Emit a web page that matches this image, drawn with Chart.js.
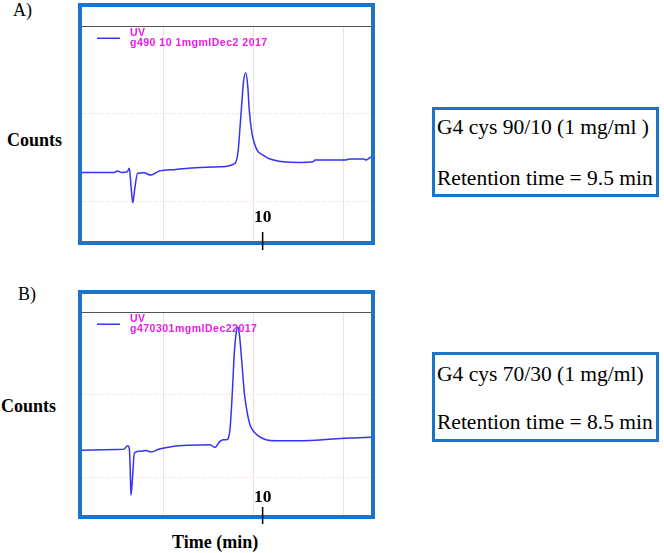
<!DOCTYPE html>
<html>
<head>
<meta charset="utf-8">
<script src="https://cdn.jsdelivr.net/npm/chart.js@4/dist/chart.umd.min.js"></script>
<style>
    body { margin: 0; background: #fff; width: 664px; height: 553px; position: relative; overflow: hidden; font-family: "Liberation Serif", "Times New Roman", serif; }
    .lbl { position: absolute; white-space: nowrap; color: #000; font-size: 18px; line-height: 20px; }
    .bold { font-weight: bold; }
    .box { position: absolute; box-sizing: border-box; border: 3px solid #1b74c9; width: 227px; height: 90px; }
    .info { position: absolute; white-space: nowrap; font-size: 21.5px; line-height: 24px; color: #000; }
    canvas { position: absolute; }
</style>
</head>
<body>
<div class="lbl" style="left:13px; top:0px;">A)</div>
<div class="lbl" style="left:18px; top:284px;">B)</div>
<div class="lbl bold" style="left:7px; top:130px;">Counts</div>
<div class="lbl bold" style="left:1px; top:396px;">Counts</div>
<div class="lbl bold" style="left:172px; top:532px;">Time (min)</div>

<div class="box" style="left:432px; top:107px;"></div>
<div class="info" style="left:437px; top:115px;">G4 cys 90/10 (1 mg/ml )</div>
<div class="info" style="left:437px; top:166px;">Retention time = 9.5 min</div>

<div class="box" style="left:432px; top:352px;"></div>
<div class="info" style="left:437px; top:362px;">G4 cys 70/30 (1 mg/ml)</div>
<div class="info" style="left:437px; top:410px;">Retention time = 8.5 min</div>

<canvas id="chartA" width="312" height="262" style="left:70px; top:0px;"></canvas>
<canvas id="chartB" width="312" height="262" style="left:70px; top:285px;"></canvas>

<script>
// --- DATA ---
const sampleNames = ['g490 10 1mgmlDec2 2017', 'g470301mgmlDec22017'];
const gridTimes = [4.5, 9.5, 14.5];
const gridCounts = [1, 2, 3];
const tickTimes = [10];

// A) G4 cys 90/10
const timesA = [0, 1.77, 1.98, 2.16, 2.49, 2.62, 2.71, 2.81, 2.91, 3.08, 3.43, 3.82, 4.28, 5.20, 6.53, 7.64, 8.47, 8.65, 8.75, 8.86, 8.93, 9.07, 9.18, 9.26, 9.41, 9.52, 9.69, 10.02, 10.41, 11.13, 12.07, 12.79, 12.90, 14.56, 14.84, 15.61, 15.72, 16.0];
const countsA = [1.333, 1.333, 1.348, 1.333, 1.336, 1.379, 1.19, 0.986, 1.131, 1.322, 1.328, 1.302, 1.348, 1.367, 1.388, 1.397, 1.436, 1.587, 1.853, 2.157, 2.348, 2.469, 2.309, 2.043, 1.778, 1.682, 1.587, 1.530, 1.485, 1.454, 1.447, 1.454, 1.473, 1.473, 1.485, 1.485, 1.473, 1.511];

// B) G4 cys 70/30
const timesB = [0, 1.88, 2.33, 2.53, 2.62, 2.67, 2.71, 2.79, 2.90, 3.17, 3.54, 3.82, 4.28, 5.02, 5.98, 7.09, 7.36, 7.64, 7.82, 8.01, 8.19, 8.32, 8.43, 8.53, 8.62, 8.71, 8.84, 8.99, 9.12, 9.30, 9.58, 9.95, 10.41, 10.78, 12.07, 13.9, 14.84, 16.0];
const countsB = [1.331, 1.340, 1.346, 1.388, 1.352, 1.10, 0.788, 0.98, 1.30, 1.319, 1.328, 1.312, 1.348, 1.379, 1.394, 1.40, 1.367, 1.439, 1.46, 1.46, 1.58, 2.02, 2.50, 2.74, 2.82, 2.74, 2.42, 2.02, 1.82, 1.64, 1.54, 1.48, 1.45, 1.448, 1.448, 1.468, 1.48, 1.49];

// --- PLUGIN: header strip, legend, blue frame, "10" tick ---
const panelDecor = {
    id: 'panelDecor',
    beforeDatasetsDraw(chart) {
        const { ctx, chartArea: a, scales: { y } } = chart;
        const topLine = y.getPixelForValue(gridCounts[gridCounts.length - 1]);
        ctx.save();
        ctx.fillStyle = '#fff';
        ctx.fillRect(a.left, a.top, a.right - a.left, topLine - a.top - 1);
        ctx.restore();
    },
    afterDraw(chart, args, opts) {
        const { ctx, chartArea: a, scales: { x, y } } = chart;
        const ds = chart.data.datasets[0];
        const topLine = y.getPixelForValue(gridCounts[gridCounts.length - 1]);
        ctx.save();

        // legend
        ctx.strokeStyle = ds.borderColor;
        ctx.lineWidth = 1.5;
        ctx.beginPath();
        ctx.moveTo(a.left + 15, topLine + 12);
        ctx.lineTo(a.left + 38, topLine + 12);
        ctx.stroke();
        ctx.fillStyle = '#ee18ee';
        ctx.font = 'bold 10.5px "Liberation Sans", Arial, sans-serif';
        ctx.letterSpacing = '0.5px';
        ctx.textBaseline = 'middle';
        ctx.fillText(ds.label, a.left + 48, topLine + 6.5);
        ctx.fillText(opts.sample, a.left + 48, topLine + 17);
        ctx.letterSpacing = '0px';

        // frame
        ctx.strokeStyle = '#1b74c9';
        ctx.lineWidth = 4;
        ctx.strokeRect(a.left - 2, a.top - 2, a.right - a.left + 4, a.bottom - a.top + 4);

        // time tick
        ctx.strokeStyle = '#000';
        ctx.lineWidth = 1.5;
        ctx.fillStyle = '#000';
        ctx.font = 'bold 17.5px "Liberation Serif", "Times New Roman", serif';
        ctx.textAlign = 'center';
        tickTimes.forEach(t => {
            const px = x.getPixelForValue(t);
            ctx.beginPath();
            ctx.moveTo(px, a.bottom - opts.tickIn);
            ctx.lineTo(px, a.bottom + 9);
            ctx.stroke();
            ctx.fillText(String(t), px, a.bottom - opts.labelOff);
        });
        ctx.restore();
    }
};

// --- CHART BUILDER ---
const makeChart = (id, times, counts, sample, padding, tickIn, labelOff) => {
    const ctx = document.getElementById(id).getContext('2d');
    return new Chart(ctx, {
        type: 'line',
        data: {
            datasets: [{
                label: 'UV',
                data: times.map((t, i) => ({ x: t, y: counts[i] })),
                borderColor: '#3434f4',
                borderWidth: 1.5,
                pointRadius: 0,
                cubicInterpolationMode: 'monotone',
                fill: false
            }]
        },
        options: {
            responsive: false,
            animation: false,
            layout: { padding: padding },
            plugins: {
                legend: { display: false },
                tooltip: { enabled: false },
                panelDecor: { sample: sample, tickIn: tickIn, labelOff: labelOff }
            },
            scales: {
                x: {
                    type: 'linear',
                    min: 0,
                    max: 16,
                    afterBuildTicks: (scale) => { scale.ticks = gridTimes.map(v => ({ value: v })); },
                    ticks: { display: false },
                    grid: { drawTicks: false, color: '#f6dede', lineWidth: 1 },
                    border: { display: false }
                },
                y: {
                    min: 0.55,
                    max: 3.22,
                    afterBuildTicks: (scale) => { scale.ticks = gridCounts.map(v => ({ value: v })); },
                    ticks: { display: false },
                    grid: {
                        drawTicks: false,
                        lineWidth: 1,
                        color: (c) => c.tick && c.tick.value === 3 ? '#555' : '#eccccc'
                    },
                    border: {
                        display: false,
                        dash: (c) => c.tick && c.tick.value === 3 ? [] : [1, 2]
                    }
                }
            }
        },
        plugins: [panelDecor]
    });
};

makeChart('chartA', timesA, countsA, sampleNames[0], { left: 12, right: 11, top: 7, bottom: 21 }, 9, 24);
makeChart('chartB', timesB, countsB, sampleNames[1], { left: 12, right: 11, top: 9, bottom: 32 }, 8, 17.5);
</script>
</body>
</html>
